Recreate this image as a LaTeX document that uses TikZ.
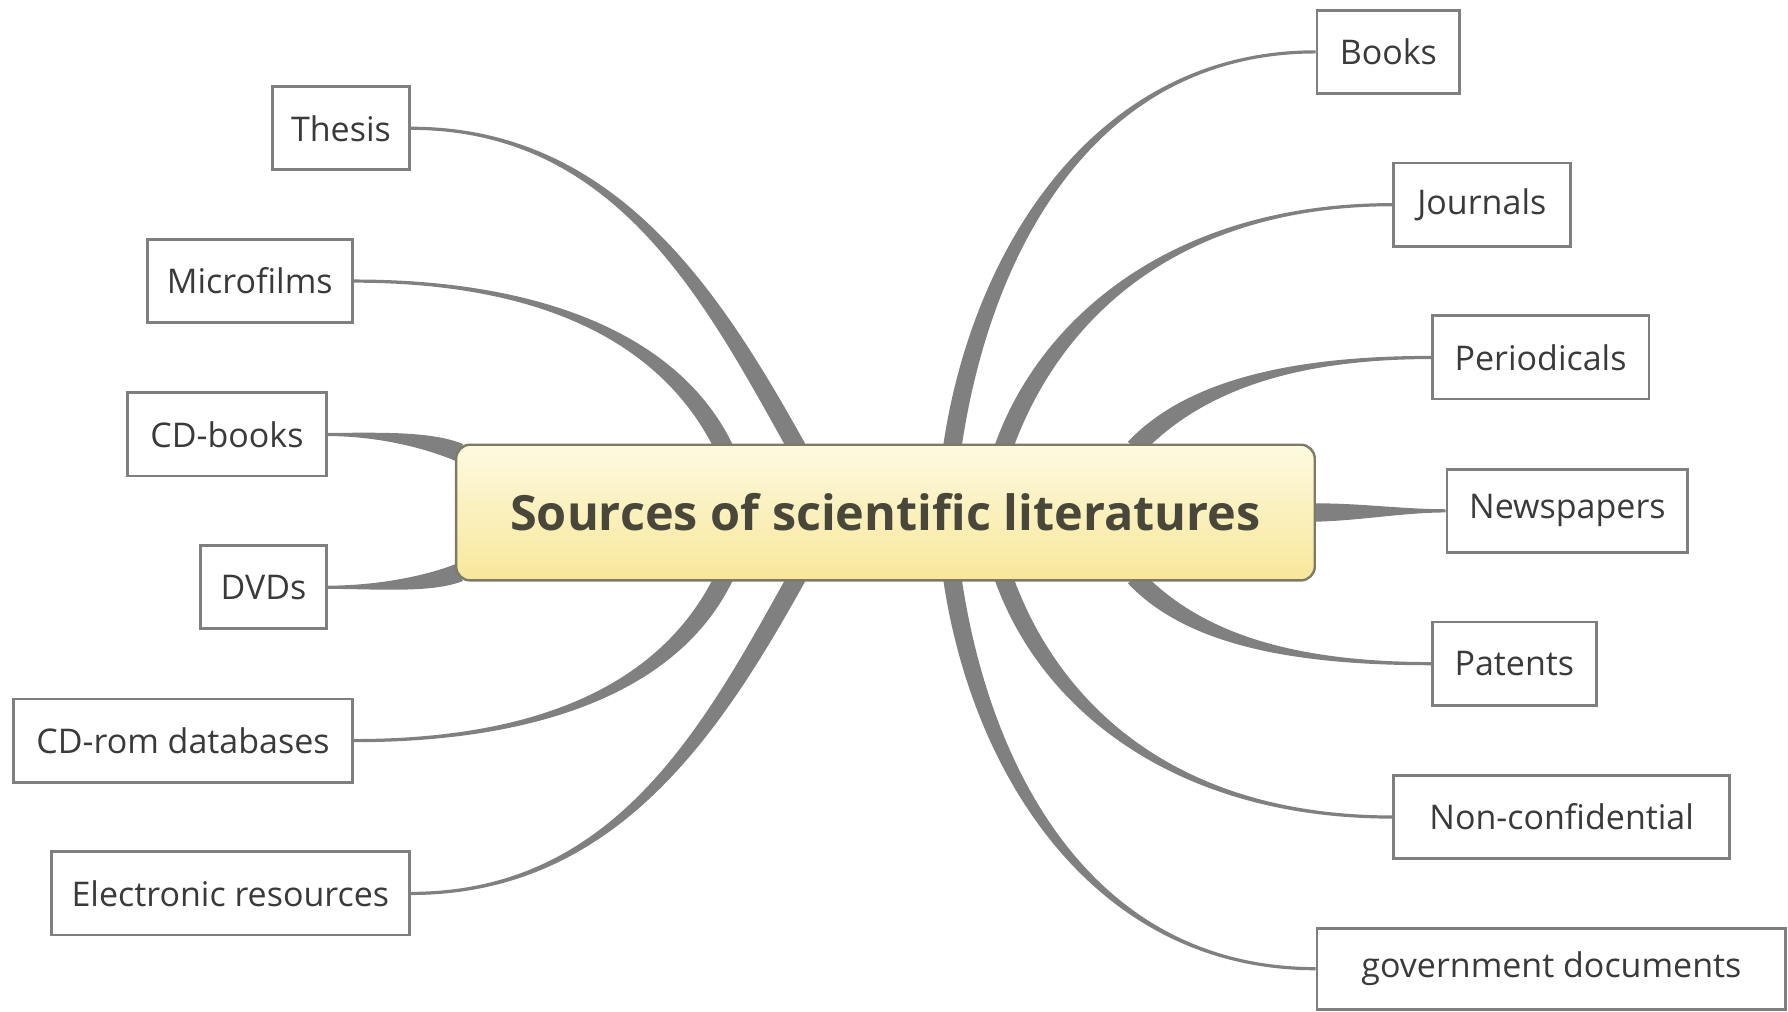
\documentclass[tikz,border=0pt]{standalone}
\usepackage{fontspec}
\setmainfont{Open Sans}
\usetikzlibrary{calc,backgrounds}

\definecolor{branchgray}{HTML}{808080}
\definecolor{boxgray}{HTML}{7F7F7F}
\definecolor{leaftext}{HTML}{3A3A3A}
\definecolor{titletext}{HTML}{49473A}
\definecolor{srctop}{HTML}{FDFAE0}
\definecolor{srcbot}{HTML}{F8E79A}
\definecolor{srcedge}{HTML}{7D7B66}

% tapered branch: #1 root on the central topic, #2 and #3 control points,
% #4 end at the leaf, #5 half width at the root, #6 half width at the leaf
\newcommand\taperbranch[6]{%
  \coordinate (tA) at ($(#1)!#5!90:(#2)$);
  \coordinate (tB) at ($(#1)!#5!-90:(#2)$);
  \coordinate (tC) at ($(#4)!#6!-90:(#3)$);
  \coordinate (tD) at ($(#4)!#6!90:(#3)$);
  \fill[branchgray] (tA) .. controls ($(#2)+(tA)-(#1)$) and ($(#3)+(tC)-(#4)$) .. (tC)
     -- (tD) .. controls ($(#3)+(tD)-(#4)$) and ($(#2)+(tB)-(#1)$) .. (tB) -- cycle;
}

\begin{document}
\begin{tikzpicture}[x=0.5702pt, y=-0.5702pt,
  leaf/.style={draw=boxgray, line width=1.4pt, fill=white, inner sep=0pt,
    minimum height=41.6pt, text=leaftext, font=\fontsize{17}{20}\selectfont},
  wd/.style={minimum width={#1*0.5702pt}},
  topic/.style={draw=srcedge, line width=1.2pt, rounded corners=7pt,
    top color=srctop, bottom color=srcbot, inner sep=0pt,
    minimum width={753*0.5702pt}, minimum height={119*0.5702pt},
    text=titletext, font=\fontsize{24.3}{29}\selectfont\bfseries}]

\useasboundingbox (0,0) rectangle (1568,887);

% central topic
\node[topic] (src) at (776.5,449.5) {Sources of scientific literatures};

% left leaves
\node[leaf, wd=120] (thesis) at (299,112.5) {Thesis};
\node[leaf, wd=180] (micro) at (219,246.5) {Microfilms};
\node[leaf, wd=174] (cdbooks) at (199,381) {CD-books};
\node[leaf, wd=110] (dvds) at (231,515) {DVDs};
\node[leaf, wd=297] (cdrom) at (160.5,649.5) {CD-rom databases};
\node[leaf, wd=314] (elec) at (202,783.5) {Electronic resources};

% right leaves
\node[leaf, wd=125] (books) at (1217.5,45.5) {Books};
\node[leaf, wd=155] (journals) at (1299.5,179.5) {Journals};
\node[leaf, wd=190] (period) at (1351,313.5) {Periodicals};
\node[leaf, wd=211] (news) at (1374.5,448) {Newspapers};
\node[leaf, wd=144] (patents) at (1328,582) {Patents};
\node[leaf, wd=295] (noncon) at (1369.5,716.5) {Non-confidential};
\node[leaf, wd=411, minimum height=40.5pt] (gov) at (1360.5,849.5) {government documents};

% roots of the branches on the central topic
\coordinate (rThesis) at ($(src.north)+(-77.5,4)$);
\coordinate (rMicro) at ($(src.north)+(-141.5,4)$);
\coordinate (rCDb) at ($(src.north west)+(4,8)$);
\coordinate (rDVD) at ($(src.south west)+(4,-8)$);
\coordinate (rCDrom) at ($(src.south)+(-141.5,-4)$);
\coordinate (rElec) at ($(src.south)+(-77.5,-4)$);
\coordinate (rBooks) at ($(src.north)+(58.5,4)$);
\coordinate (rJourn) at ($(src.north)+(103.5,4)$);
\coordinate (rPer) at ($(src.north)+(218.5,4)$);
\coordinate (rNews) at ($(src.east)+(-4,0)$);
\coordinate (rPat) at ($(src.south)+(218.5,-4)$);
\coordinate (rNon) at ($(src.south)+(103.5,-4)$);
\coordinate (rGov) at ($(src.south)+(58.5,-4)$);

\begin{scope}[on background layer]
  \fill[white] (0,0) rectangle (1568,887);
  \taperbranch{rThesis}{625,260}{540,112.5}{thesis.east}{4.6pt}{0.8pt}
  \taperbranch{rMicro}{590,300}{480,246.5}{micro.east}{4.6pt}{0.8pt}
  \taperbranch{rCDb}{375,385}{330,381}{cdbooks.east}{4.6pt}{0.8pt}
  \taperbranch{rDVD}{375,513}{330,515}{dvds.east}{4.6pt}{0.8pt}
  \taperbranch{rCDrom}{590,599}{480,649.5}{cdrom.east}{4.6pt}{0.8pt}
  \taperbranch{rElec}{625,639}{540,783.5}{elec.east}{4.6pt}{0.8pt}
  \taperbranch{rBooks}{860,220}{960,45.5}{books.west}{4.6pt}{0.8pt}
  \taperbranch{rJourn}{920,280}{1030,179.5}{journals.west}{4.6pt}{0.8pt}
  \taperbranch{rPer}{1045,340}{1130,313.5}{period.west}{4.6pt}{0.8pt}
  \taperbranch{rNews}{1190,449}{1230,448}{news.west}{4.6pt}{0.8pt}
  \taperbranch{rPat}{1045,559}{1130,582}{patents.west}{4.6pt}{0.8pt}
  \taperbranch{rNon}{920,619}{1030,716.5}{noncon.west}{4.6pt}{0.8pt}
  \taperbranch{rGov}{860,679}{960,849.5}{gov.west}{4.6pt}{0.8pt}
\end{scope}
\end{tikzpicture}
\end{document}
